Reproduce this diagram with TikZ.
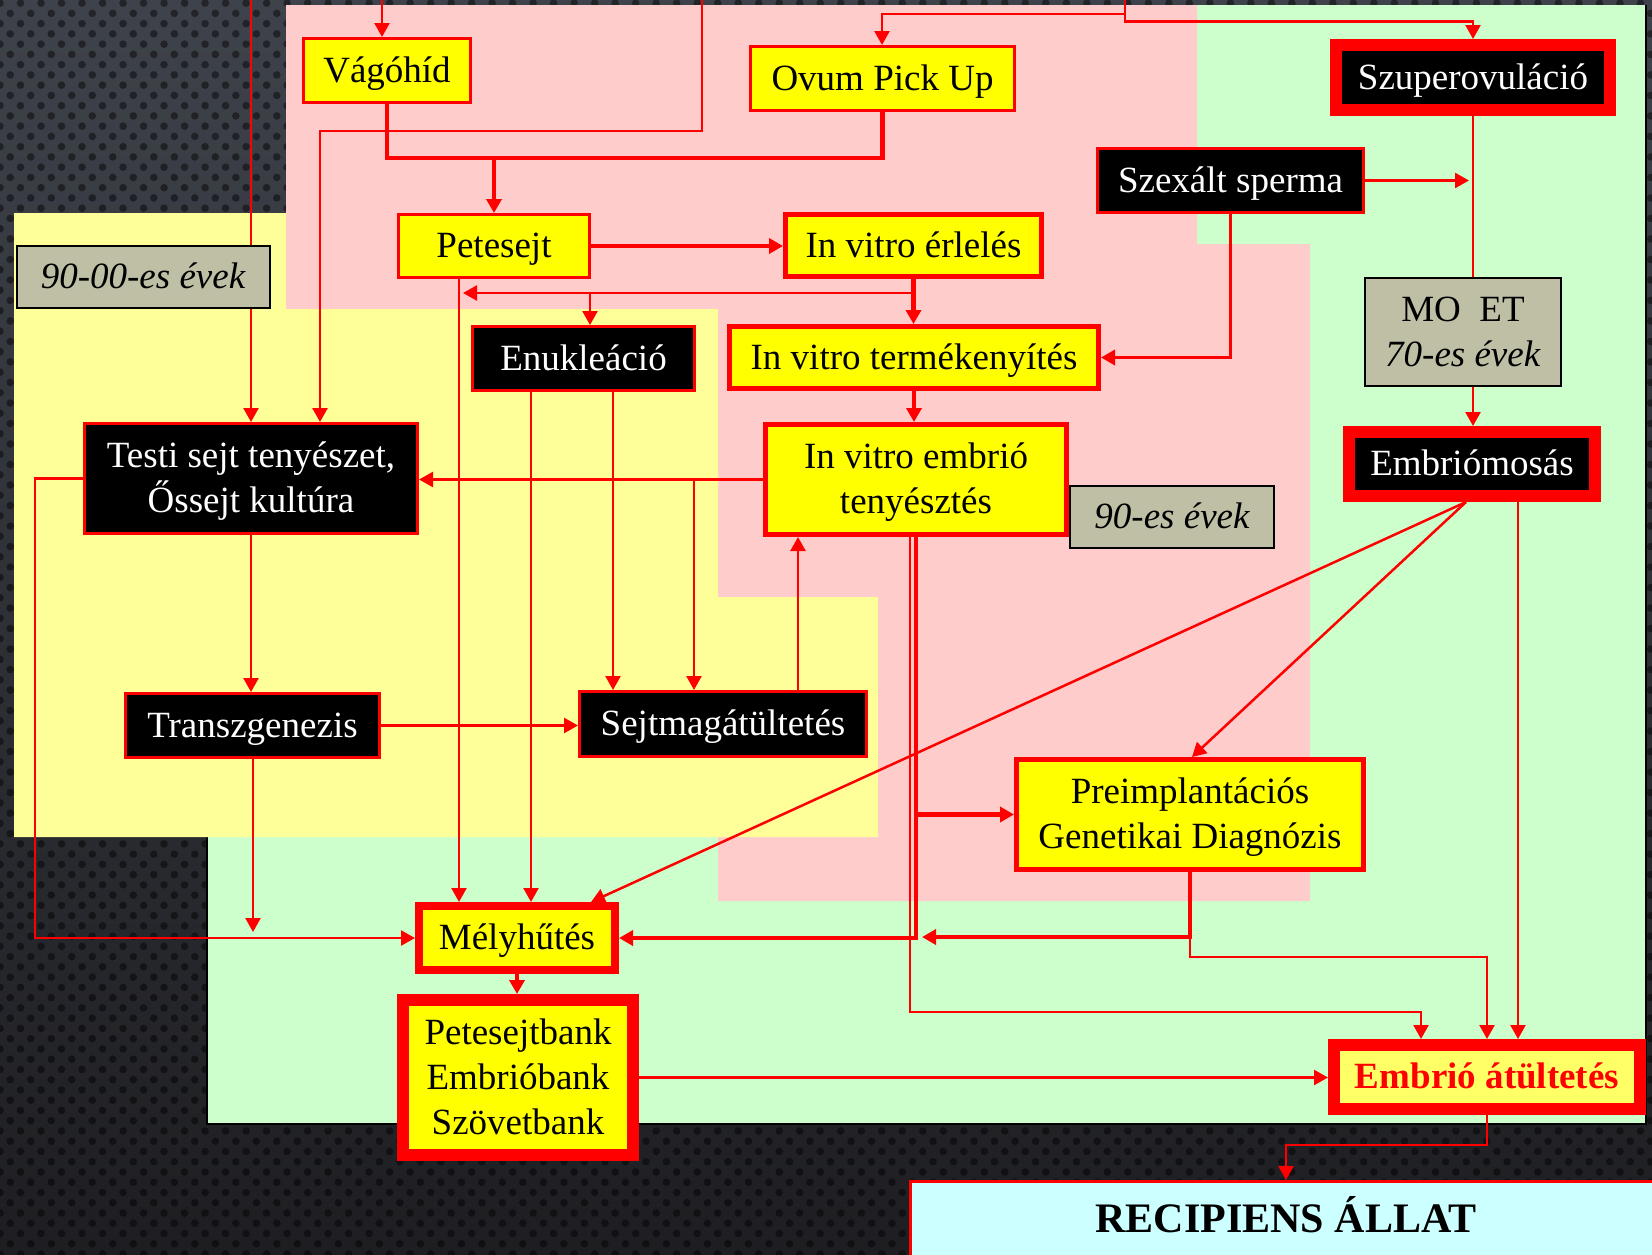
\documentclass[tikz,border=0pt]{standalone}
\usepackage{fontspec}
\setmainfont{Liberation Serif}
\usetikzlibrary{arrows.meta,patterns.meta}
\pgfdeclarelayer{panels}
\pgfdeclarelayer{links}
\pgfsetlayers{panels,links,main}
\definecolor{bgtop}{RGB}{62,66,74}
\definecolor{bgbot}{RGB}{30,30,34}
\definecolor{zpink}{RGB}{255,204,204}
\definecolor{zyellow}{RGB}{255,255,153}
\definecolor{zgreen}{RGB}{204,255,204}
\definecolor{zcyan}{RGB}{204,255,255}
\definecolor{boxyellow}{RGB}{255,255,0}
\definecolor{paleyellow}{RGB}{255,255,102}
\definecolor{eragray}{RGB}{191,191,166}
\definecolor{lnred}{RGB}{255,0,0}
\newcommand\bodyfs{\fontsize{37}{45}\selectfont}
\begin{document}
\begin{tikzpicture}[x=1pt,y=-1pt,
  sz/.style n args={3}{line width=#3pt, minimum width={(#1-#3)*1pt}, minimum height={(#2-#3)*1pt}},
  basebox/.style={draw=lnred, inner sep=0pt, align=center, font=\bodyfs,
    text height=31pt, text depth=8pt},
  two/.style={text height=76pt},
  three/.style={text height=121pt},
  ybox/.style={basebox, fill=boxyellow, text=black},
  kbox/.style={basebox, fill=black, text=white},
  gbox/.style={draw=black, fill=eragray, inner sep=0pt, align=center, font=\bodyfs,
    text height=31pt, text depth=8pt},
  con/.style={draw=lnred, line width=2.5pt},
  mcon/.style={draw=lnred, line width=3.5pt},
  tcon/.style={draw=lnred, line width=4.5pt},
  arr/.style={-{Triangle[length=14pt,width=15pt]}},
]
\useasboundingbox (0,0) rectangle (1652,1254);

% ---------- backdrop and coloured panels ----------
\begin{pgfonlayer}{panels}
\shade[top color=bgtop, bottom color=bgbot] (0,0) rectangle (1652,1254);
\fill[pattern={Dots[distance=14.5pt,angle=45,radius=3.8pt]}, pattern color=black, opacity=0.45]
  (0,0) rectangle (1652,1254);
\fill[zgreen] (1197,5) -- (1646,5) -- (1646,1124) -- (207,1124) -- (207,830) -- (1197,830) -- cycle;
\draw[black, line width=2.5pt] (207,830) -- (207,1124) -- (1646,1124) -- (1646,5);
\fill[zpink] (286,5) -- (1197,5) -- (1197,244) -- (1310,244) -- (1310,901)
  -- (718,901) -- (718,309) -- (286,309) -- cycle;
\fill[zyellow] (14,213) -- (286,213) -- (286,309) -- (718,309) -- (718,597)
  -- (878,597) -- (878,837) -- (14,837) -- cycle;
\end{pgfonlayer}

% ---------- process boxes ----------
\node[ybox, sz={170}{67}{3}] (vago) at (387,70.5) {Vágóhíd};
\node[ybox, sz={267}{67}{3}] (opu) at (882.5,78.5) {Ovum Pick Up};
\node[kbox, sz={286}{77}{12}] (szuper) at (1473,77.5) {Szuperovuláció};
\node[kbox, sz={269}{67}{3}] (szex) at (1230.5,180.5) {Szexált sperma};
\node[ybox, sz={194}{66}{3}] (pete) at (494,246) {Petesejt};
\node[ybox, sz={261}{67}{5}] (erl) at (913.5,245.5) {In vitro érlelés};
\node[gbox, sz={255}{64}{2}, font=\bodyfs\itshape] (era1) at (143,277) {90-00-es évek};
\node[kbox, sz={225}{67}{3}] (enuk) at (583.5,358.5) {Enukleáció};
\node[ybox, sz={374}{67}{5}] (term) at (914,357.5) {In vitro termékenyítés};
\node[gbox, two, sz={198}{110}{2}] (moet) at (1463,332) {MO\ \ ET\\\textit{70-es évek}};
\node[kbox, sz={258}{76}{12}] (mosas) at (1472,464) {Embriómosás};
\node[kbox, two, sz={336}{113}{3}] (testi) at (251,478.5) {Testi sejt tenyészet,\\Őssejt kultúra};
\node[ybox, two, sz={306}{115}{5}] (tenyeszt) at (916,479.5) {In vitro embrió\\tenyésztés};
\node[gbox, sz={206}{64}{2}, font=\bodyfs\itshape] (era2) at (1172,517) {90-es évek};
\node[kbox, sz={257}{67}{3}] (transz) at (252.5,725.5) {Transzgenezis};
\node[kbox, sz={290}{68}{3}] (sejt) at (723,724) {Sejtmagátültetés};
\node[ybox, two, sz={352}{115}{5}] (pgd) at (1190,814.5) {Preimplantációs\\Genetikai Diagnózis};
\node[ybox, sz={204}{72}{8}] (mely) at (517,938) {Mélyhűtés};
\node[ybox, three, sz={242}{167}{12}] (bank) at (518,1077.5) {Petesejtbank\\Embrióbank\\Szövetbank};
\node[basebox, fill=paleyellow, text=lnred, sz={318}{76}{12}, font=\bodyfs\bfseries]
  (atult) at (1487,1077) {Embrió átültetés};
\node[draw=lnred, fill=zcyan, line width=2.5pt, anchor=north west, inner sep=0pt,
  minimum width=760pt, minimum height=100pt] (recip) at (909,1180) {};
\node[font=\fontsize{42}{48}\selectfont\bfseries, anchor=base, inner sep=0pt]
  (recipT) at (1286,1232) {RECIPIENS ÁLLAT};

% ---------- connectors ----------
\begin{pgfonlayer}{links}
\coordinate (inA) at (251,0);
\coordinate (inB) at (382,0);
\coordinate (inC) at (702,0);
\coordinate (inD) at (1125,0);
\draw[con,arr] (inA) -- (inA |- testi.north);
\draw[con,arr] (inB) -- (inB |- vago.north);
\draw[con,arr] (inC) |- (320,131) -- (320,0 |- testi.north);
\draw[con,arr] (inD) |- (882,14) -- (882,0 |- opu.north);
\draw[con,arr] (inD) |- (szuper.north |- 0,21.7) -- (szuper.north);

\coordinate (joinVO) at (494,158);
\draw[tcon] (vago.south) |- (opu.south |- joinVO) -- (opu.south);
\draw[tcon,arr] (joinVO) -- (pete.north);
\draw[tcon,arr] (pete.east) -- (pete.east -| erl.west);
\draw[tcon,arr] (erl.south) -- (erl.south |- term.north);
\coordinate (ivLeft) at (463,293);
\draw[con,arr] (erl.south |- ivLeft) -- (ivLeft);
\draw[con,arr] (590,293) -- (590,0 |- enuk.north);

\draw[con,arr] (459,0 |- pete.south) -- (459,0 |- mely.north);
\draw[con,arr] (531,0 |- enuk.south) -- (531,0 |- mely.north);
\draw[con,arr] (613,0 |- enuk.south) -- (613,0 |- sejt.north);

\draw[con,arr] (tenyeszt.west) -- (tenyeszt.west -| testi.east);
\draw[con,arr] (694,0 |- tenyeszt.west) -- (694,0 |- sejt.north);
\draw[con,arr] (798,0 |- sejt.north) -- (798,0 |- tenyeszt.south);

\draw[con,arr] (testi.south) -- (testi.south |- transz.north);
\draw[con,arr] (testi.west) -| (35,938) -- (mely.west);
\draw[con,arr] (transz.east) -- (transz.east -| sejt.west);
\coordinate (tzEnd) at (253,932);
\draw[con,arr] (transz.south -| tzEnd) -- (tzEnd);

\draw[tcon,arr] (914,0 |- term.south) -- (914,0 |- tenyeszt.north);
\draw[mcon,arr] (szex.south) |- (term.east);
\draw[con,arr] (szex.east) -- (1469,0 |- szex.east);

\draw[con] (szuper.south) -- (szuper.south |- moet.north);
\draw[con,arr] (szuper.south |- moet.south) -- (szuper.south |- mosas.north);

\coordinate (mosOut) at (1466,0 |- mosas.south);
\draw[con,arr] (mosOut) -- (591,0 |- mely.north);
\draw[con,arr] (mosOut) -- (1192,0 |- pgd.north);
\draw[con,arr] (1518,0 |- mosas.south) -- (1518,0 |- atult.north);

\draw[con,arr] (910,0 |- tenyeszt.south) |- (1421,1012) -- (1421,0 |- atult.north);
\draw[tcon,arr] (916,0 |- tenyeszt.south) |- (mely.east);
\draw[tcon,arr] (916,0 |- pgd.west) -- (pgd.west);

\draw[tcon,arr] (pgd.south) |- (922,937);
\draw[con,arr] (pgd.south |- 0,937) |- (atult.north |- 0,957) -- (atult.north);

\draw[mcon,arr] (mely.south) -- (mely.south |- bank.north);
\draw[con,arr] (bank.east) -- (bank.east -| atult.west);
\draw[con,arr] (atult.south) |- (1286,1145) -- (1286,0 |- recip.north);
\end{pgfonlayer}
\end{tikzpicture}
\end{document}
